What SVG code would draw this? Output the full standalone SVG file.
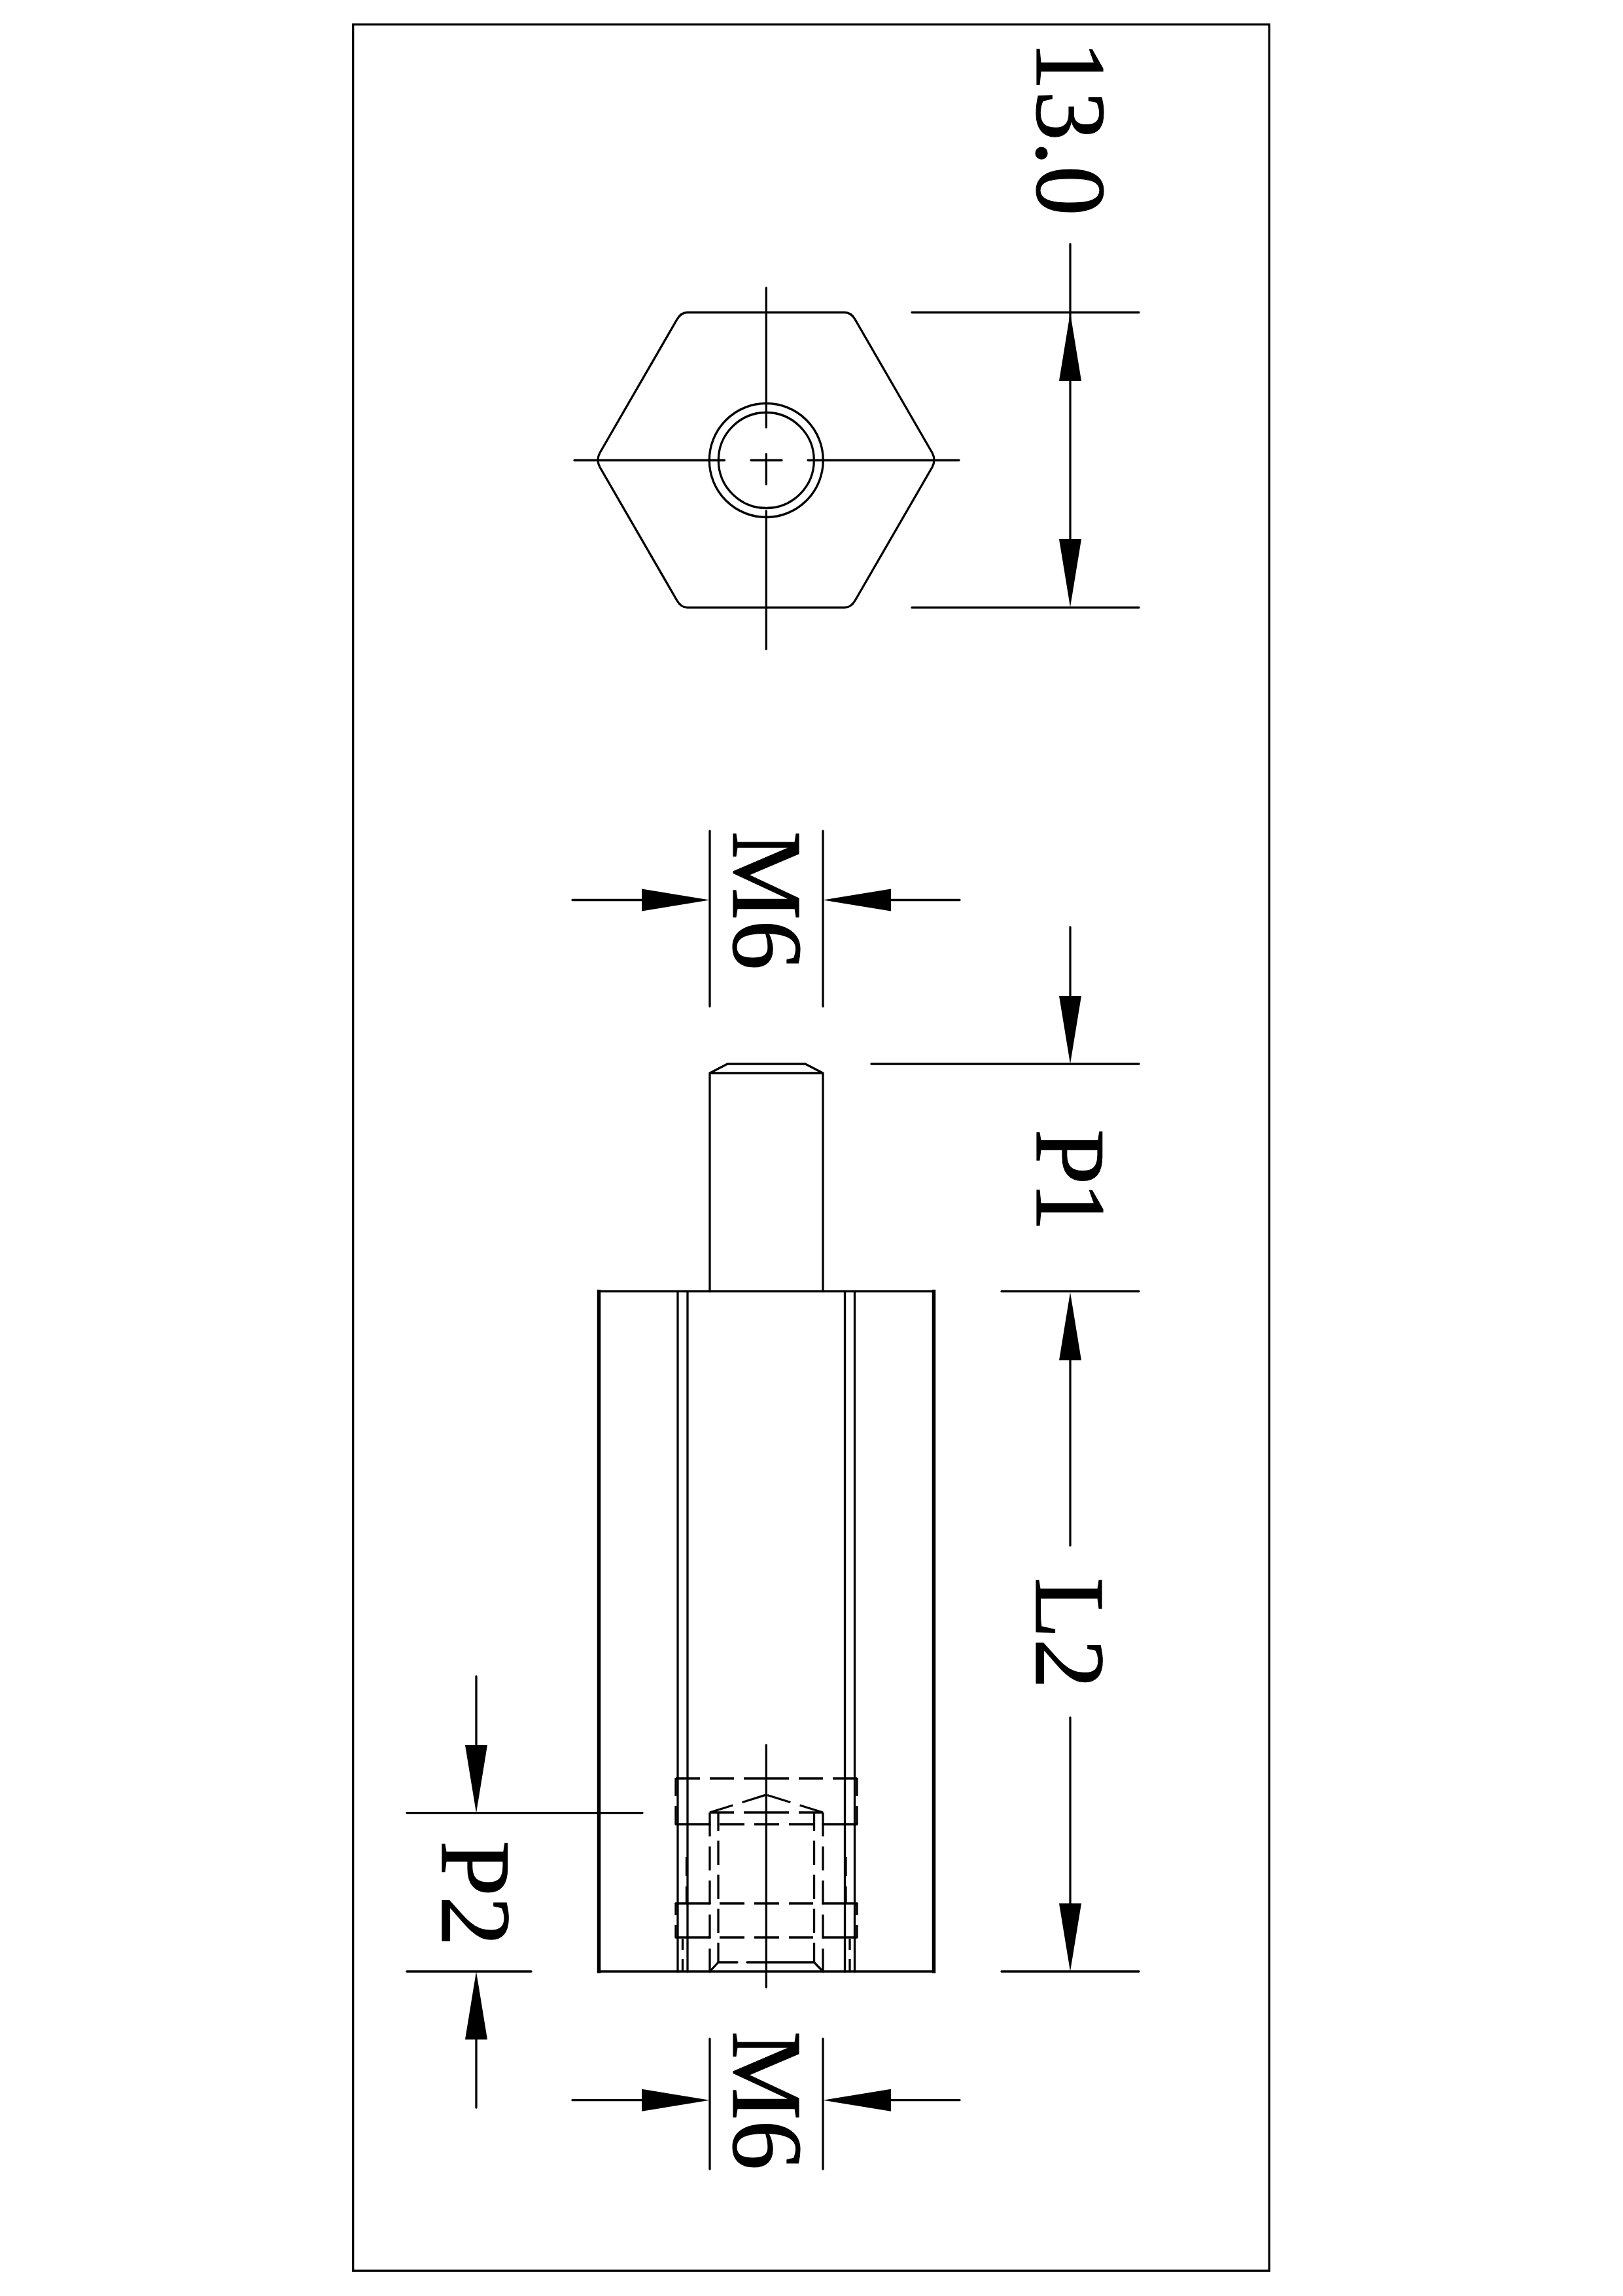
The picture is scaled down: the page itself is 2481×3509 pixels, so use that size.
<svg xmlns="http://www.w3.org/2000/svg" width="2481" height="3509" viewBox="0 0 2481 3509">
  <style>
    .l{fill:none;stroke:#000;stroke-width:3.300;stroke-linecap:round;stroke-linejoin:round}
    .d{fill:none;stroke:#000;stroke-width:3.300;stroke-linecap:butt;stroke-dasharray:37 15}
    .t{fill:none;stroke:#000;stroke-width:5.500;stroke-linecap:butt}
    .a{fill:#000;stroke:none}
    text{font-family:"Liberation Serif","Times New Roman",serif;font-size:153px;fill:#000;stroke:#000;stroke-width:1.200}
  </style>
  <defs>
    <path id="arrow" class="a" d="M0 0L-104 -17V17Z"/>
  </defs>
  <rect width="2481" height="3509" fill="#fff"/>
  <rect id="frame" class="l" style="stroke-linejoin:miter" x="539.700" y="37.300" width="1400.500" height="3433"/>

  <g id="hex-view">
    <path class="l" d="M1051 477.500H1291Q1301 477.500 1307 488L1425 692Q1431 703 1425 714L1307 918Q1301 928.500 1291 928.500H1051Q1041 928.500 1035 918L917 714Q911 703 917 692L1035 488Q1041 477.500 1051 477.500Z"/>
    <circle class="l" cx="1171.300" cy="703.500" r="87"/>
    <circle class="l" cx="1171.300" cy="703.500" r="73"/>
    <path class="l" d="M1171.300 440V653M1171.300 694V740M1171.300 781V992M878 703.500H1107.500M1148 703.500H1195M1235 703.500H1466"/>
  </g>

  <g id="side-view">
    <path class="l" d="M915.500 1973.700H1427.500M915.500 3013H1427.500"/>
    <path class="t" d="M915.500 1971V3015.500M1427.500 1971V3015.500"/>
    <path class="l" d="M1036 1973.700V3013M1051 1973.700V3013M1291.500 1973.700V3013M1306.500 1973.700V3013"/>
    <path class="l" d="M1085 1973.700V1640H1258V1973.700M1085 1640L1112 1626H1231L1258 1640"/>
  </g>

  <g id="hidden-thread">
    <path class="l" d="M1171.300 2667V3037"/>
    <path class="d" d="M1033 2718H1171.300M1310 2718H1171.300M1085 2770H1171.300M1258 2770H1171.300M1085 2770L1171.300 2743M1258 2770L1171.300 2743"/>
    <path class="d" style="stroke-dasharray:28 15" d="M1033 2717V2788M1310 2717V2788"/>
    <path class="d" style="stroke-dasharray:19 15" d="M1033 2908V2962M1310 2908V2962"/>
    <path class="l" d="M1033 2788H1085M1258 2788H1310M1033 2909H1085M1258 2909H1310M1033 2961H1085M1258 2961H1310"/>
    <path class="d" style="stroke-dasharray:38 15" d="M1100 2788H1243M1100 2909H1243M1100 2961H1243"/>
    <path class="d" style="stroke-dasharray:36.500 15.500" d="M1085 2770V3013M1258 2770V3013"/>
    <path class="d" style="stroke-dashoffset:10" d="M1098 2771V2999M1244.500 2771V2999"/>
    <path class="l" d="M1098 2999L1085 3013M1244.500 2999L1258 3013M1098 2999H1127M1142 2999H1244.500"/>
    <path class="d" style="stroke-dasharray:none" d="M1043.500 2963V2980M1043.500 2994V3013M1299 2963V2980M1299 2994V3013M1049.500 2838V2867M1049.500 2883V2909M1293 2838V2867M1293 2883V2909"/>
  </g>

  <g id="dimensions">
    <path class="l" d="M1394 477.500H1741M1394 928.500H1741M1636 373V825"/>
    <path class="l" d="M1085 1270V1538M1258 1270V1538M875 1375.500H981M1362 1375.500H1467"/>
    <path class="l" d="M1332 1626H1741M1531 1973.700H1741M1636 1417V1523M1636 2077V2362M1636 2625V2911M1531 3013H1741"/>
    <path class="l" d="M622 2770.600H982M622 3013H812M728 2562V2667M728 3117V3221"/>
    <path class="l" d="M1085 3116V3315M1258 3116V3315M875 3209.700H981M1362 3209.700H1467"/>
    <use href="#arrow" transform="translate(1636 478) rotate(-90)"/>
    <use href="#arrow" transform="translate(1636 928) rotate(90)"/>
    <use href="#arrow" transform="translate(1085 1375.500)"/>
    <use href="#arrow" transform="translate(1258 1375.500) rotate(180)"/>
    <use href="#arrow" transform="translate(1636 1626) rotate(90)"/>
    <use href="#arrow" transform="translate(1636 1975) rotate(-90)"/>
    <use href="#arrow" transform="translate(1636 3013) rotate(90)"/>
    <use href="#arrow" transform="translate(728 2771) rotate(90)"/>
    <use href="#arrow" transform="translate(728 3013) rotate(-90)"/>
    <use href="#arrow" transform="translate(1085 3209.700)"/>
    <use href="#arrow" transform="translate(1258 3209.700) rotate(180)"/>
  </g>

  <g id="labels">
    <text transform="translate(1585 62) rotate(90)">13.0</text>
    <text transform="translate(1121 1270) rotate(90)">M6</text>
    <text transform="translate(1585 1725.500) rotate(90)" style="letter-spacing:-5px">P1</text>
    <text transform="translate(1584 2411) rotate(90)">L2</text>
    <text transform="translate(676 2813) rotate(90)">P2</text>
    <text transform="translate(1121 3104) rotate(90)">M6</text>
  </g>
</svg>
